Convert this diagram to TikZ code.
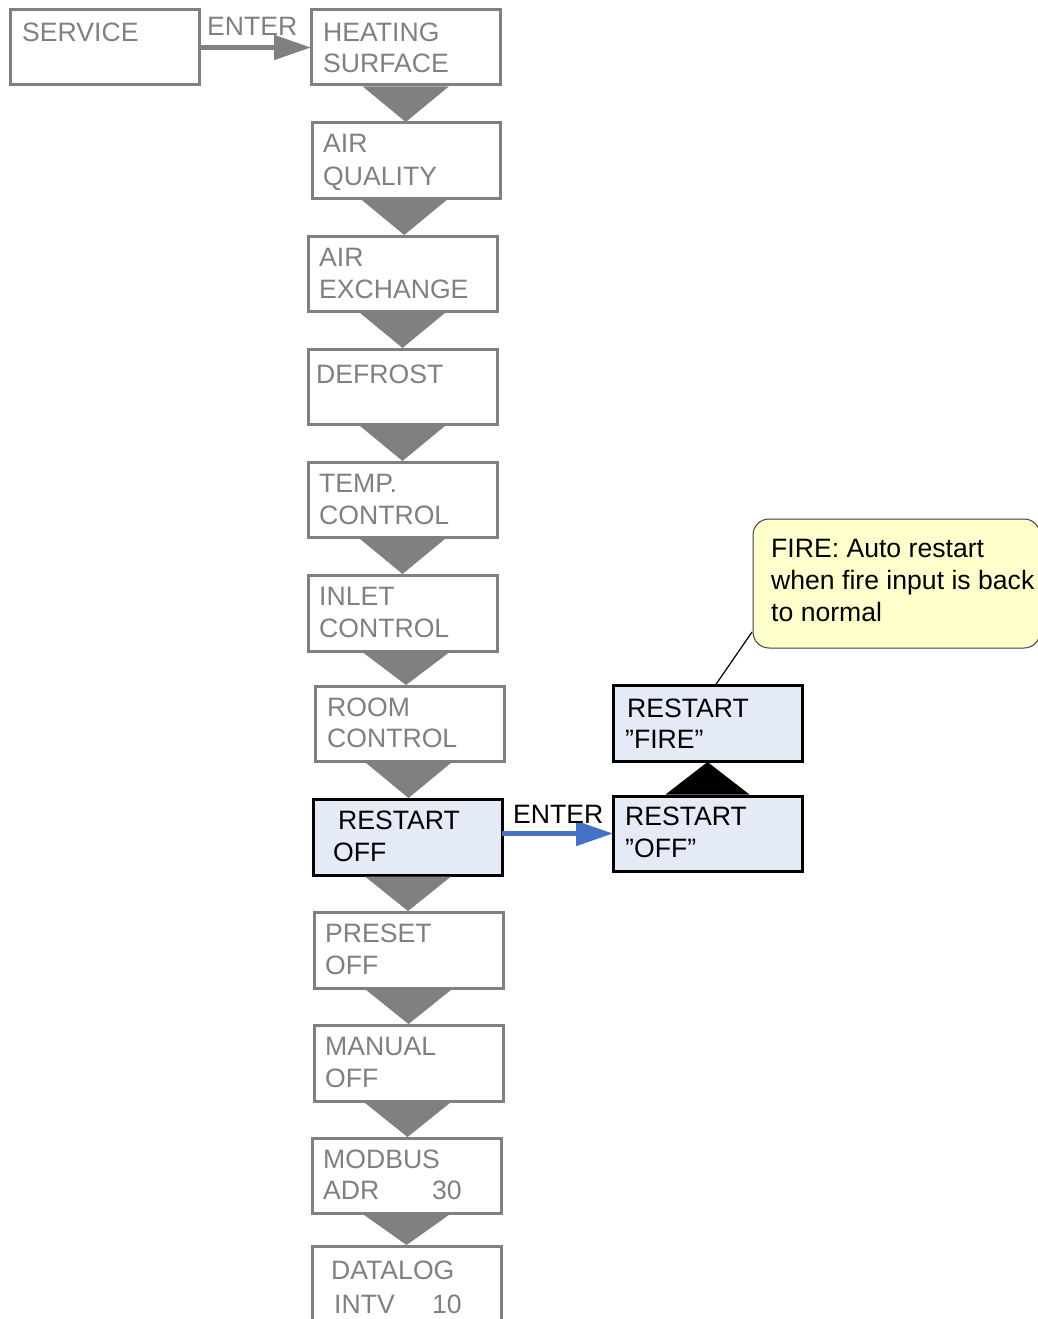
\documentclass[tikz,border=0pt]{standalone}
\usepackage{fontspec}
\setmainfont{Liberation Sans}
\usetikzlibrary{calc,arrows.meta}
\definecolor{gr}{HTML}{808080}
\definecolor{lb}{HTML}{E5EBF6}
\definecolor{ac}{HTML}{4472C4}
\definecolor{cy}{HTML}{FFFFCC}
\newcommand\mytridown[2]{\fill[gr] let \p1=($(#1.south)!.5!(#2.north)$), \p2=(#1.south), \p3=(#2.north) in (\x1-43pt,\y2-1.5pt) -- (\x1+43pt,\y2-1.5pt) -- (\x1,\y3+1pt) -- cycle;}
\begin{document}
\begin{tikzpicture}[x=1pt,y=-1pt,font=\fontsize{26.6}{31}\selectfont,
  gbox/.style={rectangle,draw=gr,line width=3pt,fill=white,minimum width=189pt,minimum height=75pt,anchor=north west,inner sep=0pt,outer sep=0pt},
  bbox/.style={gbox,draw=black,fill=lb},
  gtxt/.style={text=gr,anchor=base west,inner sep=0pt},
  btxt/.style={text=black,anchor=base west,inner sep=0pt},
  arr/.style={line width=5pt,-{Triangle[length=37pt,width=24pt]}}]
\useasboundingbox (0,0) rectangle (1038,1319);
\clip (0,0) rectangle (1038,1319);
\fill[white] (0,0) rectangle (1038,1319);
% boxes
\node[gbox] (service) at (10,10) {};
\node[gbox] (heat) at (311,10) {};
\node[gbox,minimum width=188pt] (airq) at (312,123) {};
\node[gbox] (airx) at (308,236) {};
\node[gbox] (defrost) at (308,349) {};
\node[gbox] (temp) at (308,462) {};
\node[gbox,minimum height=76pt] (inlet) at (308,575) {};
\node[gbox] (room) at (315,686) {};
\node[bbox,minimum height=76pt] (restart) at (313,799) {};
\node[gbox,minimum height=76pt] (preset) at (314,912) {};
\node[gbox,minimum height=76pt] (manual) at (314,1025) {};
\node[gbox] (modbus) at (312,1138) {};
\node[gbox] (datalog) at (312,1246) {};
\node[bbox,minimum height=76pt] (fire) at (613,685) {};
\node[bbox] (roff) at (613,796) {};
% callout
\node[rectangle,draw=black!75,fill=cy,line width=1pt,rounded corners=16pt,minimum width=287pt,minimum height=129pt,anchor=north west,inner sep=0pt,outer sep=0pt] (callout) at (753,519) {};
\coordinate (ptr) at (752,632);
\draw[line width=1.2pt] ($(fire.north)+(8,0)$) -- (ptr);
% triangles
\mytridown{heat}{airq}
\mytridown{airq}{airx}
\mytridown{airx}{defrost}
\mytridown{defrost}{temp}
\mytridown{temp}{inlet}
\mytridown{inlet}{room}
\mytridown{room}{restart}
\mytridown{restart}{preset}
\mytridown{preset}{manual}
\mytridown{manual}{modbus}
\mytridown{modbus}{datalog}
\fill[black] let \p1=($(roff.north)!.5!(fire.south)$), \p2=(roff.north), \p3=(fire.south) in (\x1-42pt,\y2+1.5pt) -- (\x1+42pt,\y2+1.5pt) -- (\x1,\y3-1pt) -- cycle;
% arrows
\draw[gr,arr] (service.east) -- (heat.west);
\draw[ac,arr] (restart.east |- roff.west) -- (roff.west);
\node[gtxt] (enter1) at (207,36) {ENTER};
\node[btxt] (enter2) at (513,823) {ENTER};
% texts
\node[gtxt] (t1) at (22,42) {SERVICE};
\node[gtxt] (t2a) at (323,42) {HEATING};
\node[gtxt] (t2b) at (323,73) {SURFACE};
\node[gtxt] (t3a) at (323,153) {AIR};
\node[gtxt] (t3b) at (323,185) {QUALITY};
\node[gtxt] (t4a) at (319,266) {AIR};
\node[gtxt] (t4b) at (319,298) {EXCHANGE};
\node[gtxt] (t5) at (316,383) {DEFROST};
\node[gtxt] (t6a) at (319,492) {TEMP.};
\node[gtxt] (t6b) at (319,524) {CONTROL};
\node[gtxt] (t7a) at (319,605) {INLET};
\node[gtxt] (t7b) at (319,637) {CONTROL};
\node[gtxt] (t8a) at (327,716) {ROOM};
\node[gtxt] (t8b) at (327,747) {CONTROL};
\node[btxt] (t9a) at (338,829) {RESTART};
\node[btxt] (t9b) at (333,861) {OFF};
\node[gtxt] (t10a) at (325,942) {PRESET};
\node[gtxt] (t10b) at (325,974) {OFF};
\node[gtxt] (t11a) at (325,1055) {MANUAL};
\node[gtxt] (t11b) at (325,1087) {OFF};
\node[gtxt] (t12a) at (323,1168) {MODBUS};
\node[gtxt] (t12b) at (323,1199) {ADR};
\node[gtxt] (t12c) at (432,1199) {30};
\node[gtxt] (t13a) at (331,1279) {DATALOG};
\node[gtxt] (t13b) at (334,1313) {INTV};
\node[gtxt] (t13c) at (432,1313) {10};
\node[btxt] (t14a) at (627,717) {RESTART};
\node[btxt] (t14b) at (625,748) {”FIRE”};
\node[btxt] (t15a) at (625,825) {RESTART};
\node[btxt] (t15b) at (625,857) {”OFF”};
\node[btxt] (c1) at (771,557) {FIRE: Auto restart};
\node[btxt] (c2) at (771,589) {when fire input is back};
\node[btxt] (c3) at (771,621) {to normal};
\end{tikzpicture}
\end{document}
